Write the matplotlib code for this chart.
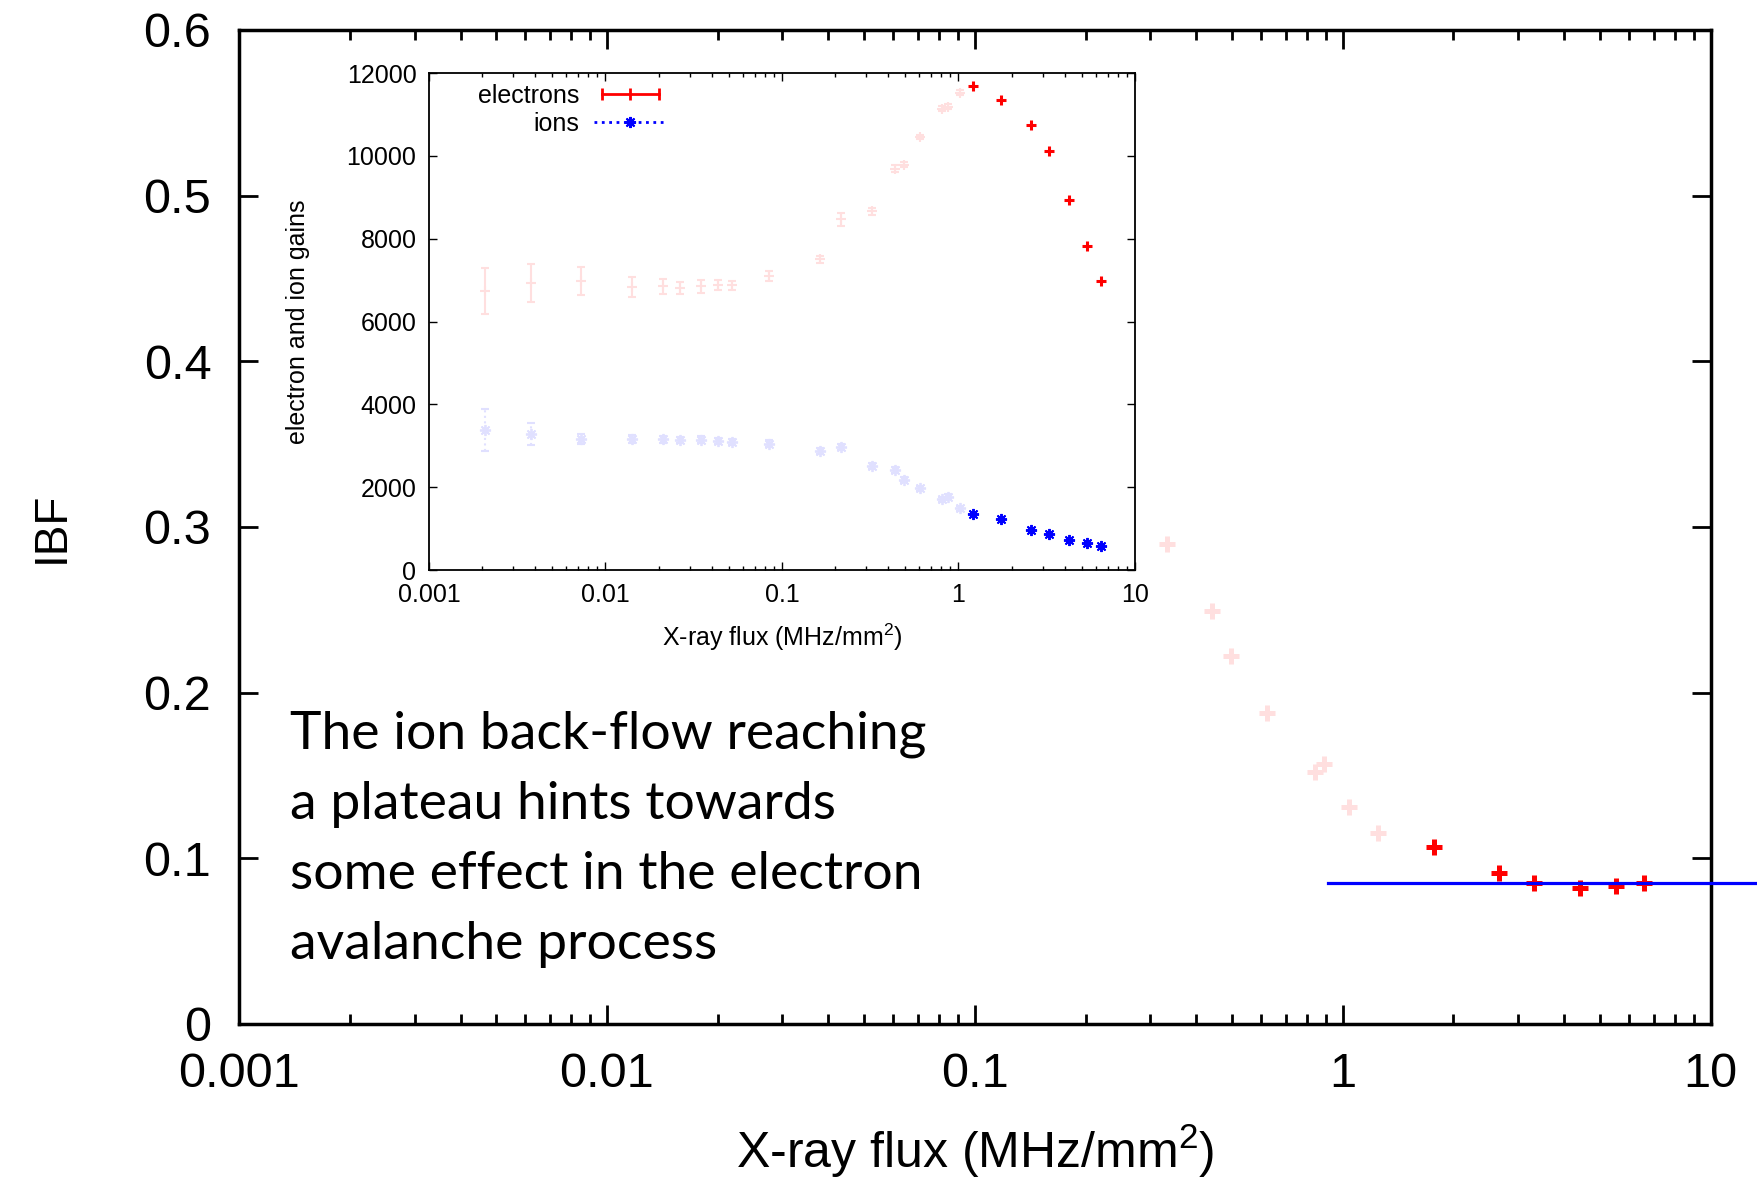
import numpy as np
import matplotlib
matplotlib.use("Agg")
import matplotlib.pyplot as plt
from matplotlib.lines import Line2D
from matplotlib.legend_handler import HandlerLine2D
from matplotlib.ticker import LogLocator, FixedLocator, FuncFormatter, NullFormatter

plt.rcParams['font.family'] = ['Liberation Sans', 'DejaVu Sans']
plt.rcParams['mathtext.fontset'] = 'custom'
plt.rcParams['mathtext.rm'] = 'Liberation Sans'
plt.rcParams['mathtext.it'] = 'Liberation Sans'

# --- main plot: IBF vs flux ---
main_flux_pale = [0.333, 0.441, 0.497, 0.622, 0.841, 0.889, 1.04, 1.245]
main_ibf_pale = [0.290, 0.249, 0.222, 0.188, 0.152, 0.157, 0.131, 0.115]
main_flux_red = [1.77, 2.66, 3.32, 4.43, 5.55, 6.61]
main_ibf_red = [0.107, 0.091, 0.085, 0.082, 0.083, 0.085]
plateau_ibf = 0.0853
plateau_flux = [0.914, 13.4]

# --- inset: electron and ion gains ---
inset_flux_pale = [0.00207, 0.00381, 0.00724, 0.01415, 0.0211, 0.0263, 0.0347, 0.0436,
                   0.0521, 0.0846, 0.165, 0.216, 0.325, 0.435, 0.491, 0.608, 0.808,
                   0.867, 1.015]
electron_gain_pale = [6740, 6930, 6980, 6830, 6850, 6815, 6850, 6890, 6870, 7100, 7500,
                      8470, 8660, 9690, 9790, 10455, 11140, 11190, 11520]
electron_err_pale = [560, 460, 330, 240, 175, 150, 150, 120, 120, 110, 90, 160, 80, 80,
                     60, 60, 60, 60, 60]
ion_gain_pale = [3380, 3290, 3165, 3165, 3155, 3135, 3145, 3115, 3090, 3050, 2880, 2975,
                 2515, 2420, 2185, 1975, 1705, 1765, 1495]
ion_err_pale = [500, 260, 120, 90, 80, 80, 80, 80, 80, 80, 70, 70, 70, 70, 60, 60, 60, 60, 60]

inset_flux_hi = [1.213, 1.745, 2.58, 3.24, 4.25, 5.37, 6.42]
electron_gain_hi = [11695, 11360, 10740, 10120, 8930, 7835, 6975]
ion_gain_hi = [1355, 1230, 970, 865, 735, 660, 590]

x_ticks = [0.001, 0.01, 0.1, 1, 10]
note_lines = ["The ion back-flow reaching",
              "a plateau hints towards",
              "some effect in the electron",
              "avalanche process"]

pale_red = '#FFDFDF'
pale_blue = '#E0E0FF'
asterisk = (8, 2, 0)

fig = plt.figure(figsize=(17.58, 11.89), dpi=100)
ax = fig.add_axes([0.136, 0.1388, 0.837, 0.836])

ax.plot(main_flux_pale, main_ibf_pale, ls='none', marker='+', ms=12, mew=3.6, color=pale_red)
ax.plot(main_flux_red, main_ibf_red, ls='none', marker='+', ms=12, mew=3.6, color='red')
ax.plot(plateau_flux, [plateau_ibf, plateau_ibf], color='blue', lw=2.3, clip_on=False, zorder=3)

ax.set_xscale('log')
ax.set_xlim(0.001, 10)
ax.set_ylim(0, 0.6)
ax.xaxis.set_major_locator(FixedLocator(x_ticks))
ax.xaxis.set_major_formatter(FuncFormatter(lambda v, p: '%g' % v))
ax.xaxis.set_minor_locator(LogLocator(base=10, subs=np.arange(2, 10)))
ax.xaxis.set_minor_formatter(NullFormatter())
ax.set_yticks(np.arange(0, 0.61, 0.1))
ax.yaxis.set_major_formatter(FuncFormatter(lambda v, p: '%g' % round(v, 1)))
ax.tick_params(which='both', direction='in', top=True, right=True, labelsize=35, width=2)
ax.tick_params(which='major', length=14, pad=20)
ax.tick_params(which='minor', length=7)
for s in ax.spines.values():
    s.set_linewidth(2.5)
ax.set_xlabel(r'X-ray flux (MHz/mm$^2$)', fontsize=36, labelpad=18)
ax.set_ylabel('IBF', fontsize=33, labelpad=50)

for i, line in enumerate(note_lines):
    fig.text(0.165, 1 - (749 + 70 * i) / 1189, line, fontsize=38.5,
             family=['Lato', 'DejaVu Sans'], va='baseline', ha='left')

# inset
ins = fig.add_axes([0.244, 0.5206, 0.4016, 0.418])
ins.set_facecolor('white')
eb = ins.errorbar(inset_flux_pale, electron_gain_pale, yerr=electron_err_pale, fmt='+',
                  color=pale_red, ms=7, mew=1.5, elinewidth=1.5, capsize=3.2, capthick=1.5)
eb = ins.errorbar(inset_flux_pale, ion_gain_pale, yerr=ion_err_pale, fmt='none',
                  color=pale_blue, elinewidth=1.5, capsize=3, capthick=1.5)
eb[2][0].set_linestyle(':')
ins.plot(inset_flux_pale, ion_gain_pale, ls='none', marker=asterisk, ms=8, mew=1.3, color=pale_blue)
ins.plot(inset_flux_hi, electron_gain_hi, ls='none', marker='+', ms=7, mew=2.2, color='red')
ins.plot(inset_flux_hi, ion_gain_hi, ls='none', marker=asterisk, ms=8, mew=1.4, color='blue')

ins.set_xscale('log')
ins.set_xlim(0.001, 10)
ins.set_ylim(0, 12000)
ins.xaxis.set_major_locator(FixedLocator(x_ticks))
ins.xaxis.set_major_formatter(FuncFormatter(lambda v, p: '%g' % v))
ins.xaxis.set_minor_locator(LogLocator(base=10, subs=np.arange(2, 10)))
ins.xaxis.set_minor_formatter(NullFormatter())
ins.set_yticks(np.arange(0, 12001, 2000))
ins.tick_params(which='both', direction='in', top=True, right=True, labelsize=18, width=1)
ins.tick_params(which='major', length=6, pad=9)
ins.tick_params(which='minor', length=3)
for s in ins.spines.values():
    s.set_linewidth(1.3)
ins.set_xlabel(r'X-ray flux (MHz/mm$^2$)', fontsize=18, labelpad=11)
ins.set_ylabel('electron and ion gains', fontsize=18, labelpad=26)

h_e = Line2D([], [], color='red', lw=2, marker='|', ms=9, mew=2)
h_i = Line2D([], [], color='blue', lw=2, ls=':', marker=asterisk, ms=8, mew=1.5)
leg = ins.legend([h_e, h_i], ['electrons', 'ions'], loc='upper left',
                 bbox_to_anchor=(0.069, 0.978), borderpad=0, borderaxespad=0,
                 frameon=False, fontsize=18, markerfirst=False, handlelength=2.9,
                 handletextpad=0.6, labelspacing=0.15,
                 handler_map={h_e: HandlerLine2D(numpoints=3), h_i: HandlerLine2D(numpoints=1)})
for col in leg._legend_handle_box.get_children():
    col.align = 'right'

fig.savefig('out.png', dpi=100)
